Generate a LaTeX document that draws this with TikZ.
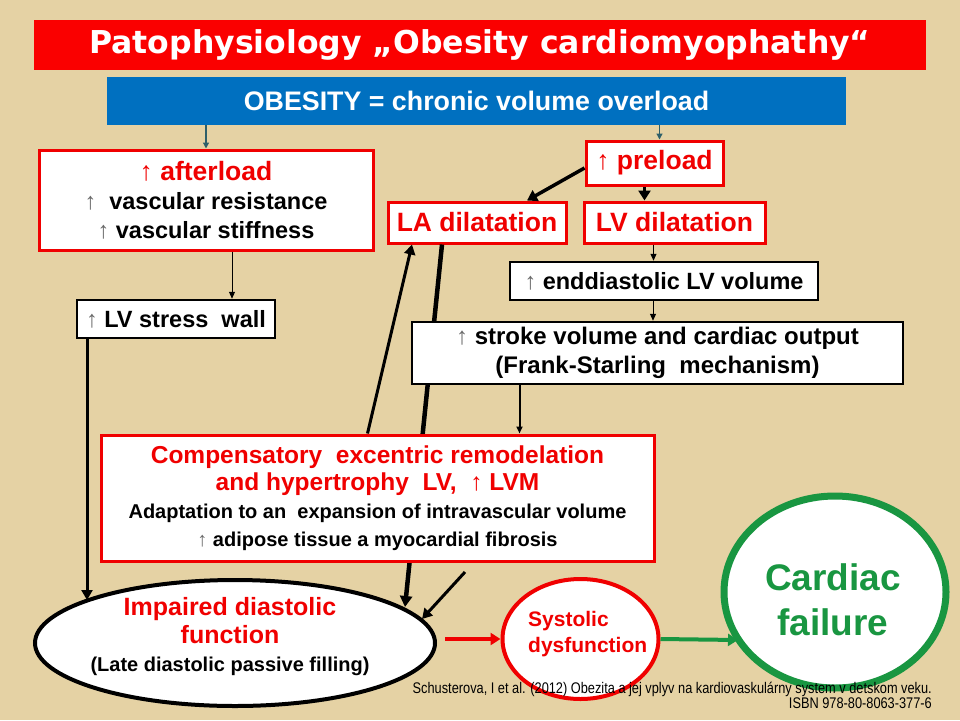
\documentclass[tikz,border=0pt]{standalone}
\usepackage{fontspec}
\setmainfont{Liberation Sans}
\newfontfamily\titlefont{DejaVu Sans}
\newfontfamily\narrowfont[FakeStretch=0.83]{Liberation Sans}
\usetikzlibrary{arrows.meta,calc,shapes.geometric}
\definecolor{parch}{RGB}{229,210,164}
\definecolor{barred}{RGB}{250,0,0}
\definecolor{obblue}{RGB}{0,112,192}
\definecolor{bred}{RGB}{240,0,0}
\definecolor{tred}{RGB}{240,0,0}
\definecolor{cfgreen}{RGB}{25,150,65}
\definecolor{tealc}{RGB}{45,95,105}
\definecolor{arrgray}{RGB}{105,105,105}
\newcommand{\gup}{\textcolor{arrgray}{\mdseries ↑}}
\newcommand{\rup}{{\mdseries ↑}}
\newcommand{\fs}[2]{\fontsize{#1}{#2}\selectfont}
\tikzset{
  redbox/.style={draw=bred, line width=3pt, fill=white, inner sep=0pt, align=center},
  blackbox/.style={draw=black, line width=2.5pt, fill=white, inner sep=0pt, align=center},
  thinarr/.style={draw=black, line width=1pt, -{Triangle[length=7pt,width=6pt]}},
  medarr/.style={draw=black, line width=3pt, -{Triangle[length=10pt,width=11pt]}},
  thickarr/.style={draw=black, line width=3.5pt, -{Triangle[length=10pt,width=12pt]}},
  tealarr/.style={draw=tealc, line width=1.3pt, -{Triangle[length=6pt,width=6pt]}},
  redarr/.style={draw=bred, line width=4pt, -{Triangle[length=10pt,width=12pt]}},
  greenarr/.style={draw=cfgreen, line width=4pt, -{Triangle[length=10pt,width=12pt]}}
}
\begin{document}
\begin{tikzpicture}[x=1pt,y=-1pt]
\fill[parch] (0,0) rectangle (960,720);
\useasboundingbox (0,0) rectangle (960,720);

% bars
\node[fill=barred, minimum width=892pt, minimum height=50pt, inner sep=0pt, text=white,
      font=\titlefont\bfseries\fs{31.5}{33}] (title) at (480,45) {Patophysiology „Obesity cardiomyophathy“};
\node[fill=obblue, minimum width=739pt, minimum height=48pt, inner sep=0pt, text=white,
      font=\bfseries\fs{26.8}{28}] (obesity) at (476.5,101) {OBESITY = chronic volume overload};

% boxes
\node[redbox, minimum width=334pt, minimum height=100pt, font=\bfseries\fs{23.5}{29}] (after) at (206,200)
  {\fs{26.5}{29}\textcolor{tred}{\rup\ afterload}\\
   \gup\ \ vascular resistance\\
   \gup\ vascular stiffness};
\node[redbox, minimum width=137pt, minimum height=44pt, text=tred, font=\bfseries\fs{26.5}{29}] (pre) at (654.5,163) {\rup\ preload};
\node[redbox, minimum width=178pt, minimum height=41pt, text=tred, font=\bfseries\fs{26.5}{29}] (la) at (477,222.5) {LA dilatation};
\node[redbox, minimum width=181pt, minimum height=41pt, text=tred, font=\bfseries\fs{26.5}{29}] (lv) at (674.5,222.5) {LV dilatation};
\node[blackbox, minimum width=308pt, minimum height=38pt, font=\bfseries\fs{23.5}{28}] (edv) at (664,281) {\gup\ enddiastolic LV volume};
\node[blackbox, minimum width=198pt, minimum height=38pt, font=\bfseries\fs{23.5}{28}] (stress) at (176,319) {\gup\ LV stress\ \ wall};

\node[draw=black, line width=4pt, fill=white, ellipse, minimum width=400pt, minimum height=126pt, inner sep=0pt] (ell) at (235,643) {};
\node[align=center, inner sep=0pt, font=\bfseries\fs{20}{28}] (elltext) at (230,637)
  {\fs{25}{28}\textcolor{tred}{Impaired diastolic}\\
   \fs{25}{28}\textcolor{tred}{function}\\
   (Late diastolic passive filling)};
\node[draw=bred, line width=4pt, fill=white, ellipse, minimum width=156pt, minimum height=120pt, inner sep=0pt] (sys) at (580.5,639) {};
\node[text=tred, align=left, font=\bfseries\fs{21}{26}, inner sep=0pt, anchor=west] (systext) at (528,634) {Systolic\\dysfunction};
\node[draw=cfgreen, line width=7pt, fill=white, ellipse, minimum width=222pt, minimum height=192pt, inner sep=0pt] (cf) at (835,592) {};
\node[text=cfgreen, align=center, inner sep=0pt, font=\bfseries\fs{37}{45}] (cftext) at (833,600) {Cardiac\\failure};

% long line behind the boxes
\draw[draw=black, line width=4.5pt, -{Triangle[length=11pt,width=12pt]}] ([xshift=-35pt]la.south) -- ($(ell.center)+(170,-36)$);

\node[blackbox, minimum width=491pt, minimum height=62pt, font=\bfseries\fs{24}{29}] (stroke) at (657.5,353)
  {\gup\ stroke volume and cardiac output\\
   (Frank-Starling\ \ mechanism)};
\node[redbox, minimum width=553pt, minimum height=126pt, font=\bfseries\fs{20}{27.7}] (comp) at (377.5,498)
  {\fs{24.5}{28}\textcolor{tred}{Compensatory\ \ excentric remodelation}\\
   \fs{24.5}{28}\textcolor{tred}{and hypertrophy\ \ LV,\ \ \rup\ LVM}\\
   Adaptation to an\ \ expansion of intravascular volume\\
   \gup\ adipose tissue a myocardial fibrosis};

% connectors
\draw[tealarr] (after.north |- obesity.south) -- (after.north);
\draw[tealarr] ([xshift=5pt]pre.north |- obesity.south) -- ([xshift=5pt]pre.north);
\draw[thickarr] ([yshift=-5pt]pre.west) -- ([xshift=50pt]la.north);
\draw[thickarr] ([xshift=-10pt]pre.south) -- ([xshift=-10pt]pre.south |- lv.north);
\draw[thinarr] ([xshift=-21pt]lv.south) -- ([xshift=-21pt]lv.south |- edv.north);
\draw[thinarr] ([xshift=-11pt]edv.south) -- ([xshift=-11pt]edv.south |- stroke.north);
\draw[thinarr] ([xshift=26pt]after.south) -- ([xshift=26pt]after.south |- stress.north);
\draw[thinarr, line width=2pt] ([xshift=-138pt]stroke.south) -- ([xshift=-138pt]stroke.south |- comp.north);
\draw[medarr] ([xshift=-89pt]stress.south) -- ($(ell.center)+(-148,-43)$);
\draw[medarr] ([xshift=-10pt]comp.north) -- ([xshift=-65pt]la.south);
\coordinate (fa) at (465,572);
\draw[medarr] (fa) -- ($(ell.center)+(187,-24)$);
\draw[redarr] ([xshift=8pt]ell.east |- sys.west) -- (sys.west);
\draw[greenarr] (sys.east) -- ($(cf.center)+(-97,48)$);

% citation
\node[anchor=east, align=right, inner sep=0pt, font=\narrowfont\fs{15.4}{15}] (cite) at (932,695)
  {Schusterova, I et al. (2012) Obezita a jej vplyv na kardiovaskulárny system v detskom veku.\\
   ISBN 978-80-8063-377-6};
\end{tikzpicture}
\end{document}
